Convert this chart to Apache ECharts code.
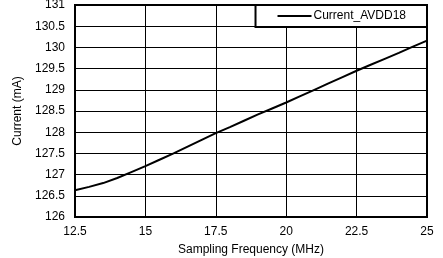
<!DOCTYPE html>
<html><head><meta charset="utf-8">
<script src="https://cdn.jsdelivr.net/npm/echarts@6/dist/echarts.min.js"></script>
<style>html,body{margin:0;padding:0;background:#fff}#c{width:443px;height:258px}</style>
</head><body><div id="c"></div>
<script>
var freq = [12.5,13,13.5,14,14.5,15,15.5,16,16.5,17,17.5,18,18.5,19,19.5,20,20.5,21,21.5,22,22.5,23,23.5,24,24.5,25];
var currentAVDD18 = [126.63,126.71,126.8,126.92,127.06,127.2,127.35,127.5,127.66,127.82,127.98,128.12,128.27,128.42,128.56,128.7,128.85,129.0,129.15,129.3,129.45,129.59,129.73,129.87,130.02,130.16];
var seriesName = 'Current_AVDD18';
var xTitle = 'Sampling Frequency (MHz)';
var yTitle = 'Current (mA)';

var chart = echarts.init(document.getElementById('c'));
var font = 'Liberation Sans, Arial, sans-serif';
chart.setOption({
  animation: false,
  textStyle: {fontFamily: font},
  grid: {left: 75, right: 16, top: 5, bottom: 41, show: true, borderColor: '#000', borderWidth: 2, backgroundColor: 'transparent', z: 10, containLabel: false, outerBoundsMode: 'none'},
  legend: {
    data: [seriesName], right: 16, top: 5,
    padding: [4, 21, 4, 22], itemGap: 0, itemWidth: 34, itemHeight: 2,
    backgroundColor: '#fff', borderColor: '#000', borderWidth: 2, borderRadius: 0,
    icon: 'rect',
    textStyle: {fontFamily: font, fontSize: 12, color: '#000', padding: [0,0,0,-3], lineHeight: 14}
  },
  xAxis: {
    type: 'value', min: 12.5, max: 25, interval: 2.5,
    name: xTitle, nameLocation: 'middle', nameGap: 27,
    nameTextStyle: {fontFamily: font, fontSize: 12, color: '#000'},
    axisLine: {show: false}, axisTick: {show: false},
    axisLabel: {fontFamily: font, fontSize: 12, color: '#000', margin: 9},
    splitLine: {show: true, lineStyle: {color: '#000', width: 1}}
  },
  yAxis: {
    type: 'value', min: 126, max: 131, interval: 0.5,
    name: yTitle, nameLocation: 'middle', nameGap: 47, nameRotate: 90,
    nameTextStyle: {fontFamily: font, fontSize: 12, color: '#000'},
    axisLine: {show: false}, axisTick: {show: false},
    axisLabel: {fontFamily: font, fontSize: 12, color: '#000', margin: 10},
    splitLine: {show: true, lineStyle: {color: '#000', width: 1}}
  },
  series: [{
    name: seriesName, type: 'line', showSymbol: false, symbol: 'none',
    data: freq.map(function(f, i){ return [f, currentAVDD18[i]]; }),
    lineStyle: {color: '#000', width: 2}, itemStyle: {color: '#000'}
  }]
});
</script></body></html>
